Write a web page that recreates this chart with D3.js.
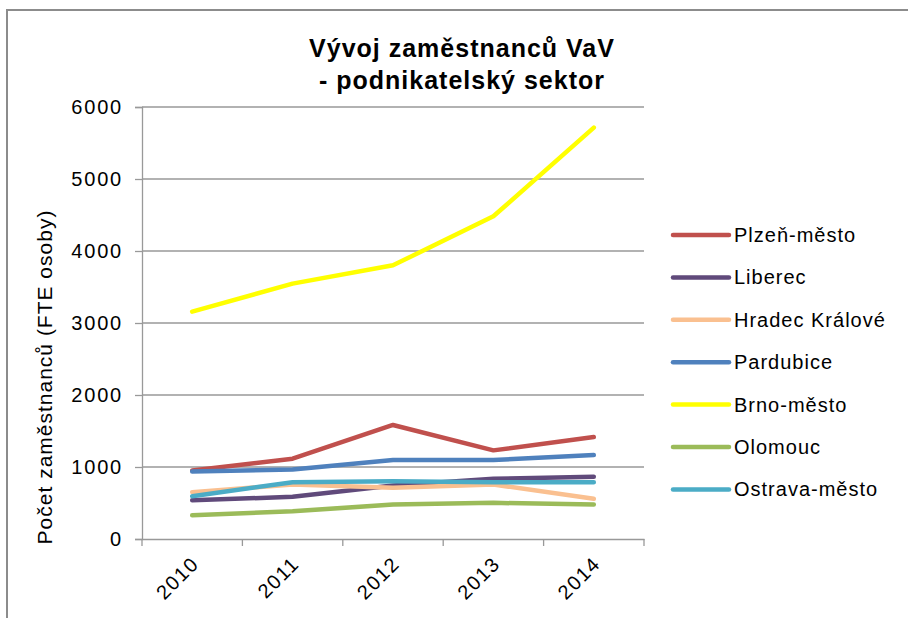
<!DOCTYPE html>
<html lang="cs">
<head>
<meta charset="UTF-8">
<script src="https://cdn.jsdelivr.net/npm/d3@7"></script>
<style>
    body { margin: 0; background: #fff; }
    text { font-family: "Liberation Sans", Arial, sans-serif; fill: #000; }
</style>
</head>
<body>
<div id="chart"></div>
<script>
    // Data
    const years = ["2010", "2011", "2012", "2013", "2014"];
    const regions = ["Plzeň-město", "Liberec", "Hradec Králové", "Pardubice", "Brno-město", "Olomouc", "Ostrava-město"];
    const plzen = [950, 1115, 1584, 1231, 1417];
    const liberec = [538, 586, 743, 837, 865];
    const hradec = [650, 757, 711, 757, 558];
    const pardubice = [939, 966, 1096, 1096, 1166];
    const brno = [3158, 3547, 3801, 4482, 5714];
    const olomouc = [329, 385, 478, 502, 478];
    const ostrava = [594, 789, 803, 789, 789];
    const colors = ["#C0504D", "#604A7B", "#FAC090", "#4F81BD", "#FFFF00", "#9BBB59", "#4BACC6"];
    const yTicks = [0, 1000, 2000, 3000, 4000, 5000, 6000];

    const series = [plzen, liberec, hradec, pardubice, brno, olomouc, ostrava];

    const width = 908, height = 618;
    const svg = d3.select("#chart").append("svg")
        .attr("width", width)
        .attr("height", height);

    // frame
    svg.append("path")
        .attr("d", "M7,618V10H908")
        .attr("fill", "none")
        .attr("stroke", "#8c8c8c")
        .attr("stroke-width", 2);

    const x = d3.scaleBand().domain(years).range([142, 644]);
    const y = d3.scaleLinear().domain([0, 6000]).range([539, 107]);

    // gridlines
    svg.append("g")
        .selectAll("line")
        .data(yTicks.slice(1))
        .join("line")
        .attr("x1", 142).attr("x2", 644)
        .attr("y1", d => y(d)).attr("y2", d => y(d))
        .attr("stroke", "#999")
        .attr("stroke-width", 1.3);

    // y axis
    const yAxis = svg.append("g")
        .attr("transform", "translate(142,0)")
        .call(d3.axisLeft(y).tickValues(yTicks).tickSize(7).tickPadding(12).tickFormat(d3.format("d")));
    yAxis.select(".domain").attr("stroke", "#999").attr("stroke-width", 1.3);
    yAxis.selectAll(".tick line").attr("stroke", "#999").attr("stroke-width", 1.3);
    yAxis.selectAll("text").style("font-size", "20px").style("letter-spacing", "1.8px").attr("fill", "#000");

    // x axis
    const xAxis = svg.append("g")
        .attr("transform", "translate(0,539)")
        .call(d3.axisBottom(x).tickSize(0).tickFormat(""));
    xAxis.select(".domain").attr("stroke", "#999").attr("stroke-width", 1.3);
    const xt = [...years.map(d => x(d)), 644];
    svg.append("g").selectAll("line").data(xt).join("line")
        .attr("x1", d => d).attr("x2", d => d)
        .attr("y1", 539).attr("y2", 546)
        .attr("stroke", "#999").attr("stroke-width", 1.3);
    svg.append("g").selectAll("text").data(years).join("text")
        .attr("transform", d => `translate(${x(d) + x.bandwidth() / 2 + 3},560) rotate(-45)`)
        .attr("text-anchor", "end")
        .attr("dy", "0.35em")
        .style("font-size", "20px")
        .style("letter-spacing", "1.5px")
        .text(d => d);

    // lines
    const line = d3.line()
        .x((d, i) => x(years[i]) + x.bandwidth() / 2)
        .y(d => y(d));
    svg.append("g").selectAll("path")
        .data(series)
        .join("path")
        .attr("d", line)
        .attr("fill", "none")
        .attr("stroke", (d, i) => colors[i])
        .attr("stroke-width", 4.5)
        .attr("stroke-linecap", "round")
        .attr("stroke-linejoin", "round");

    // title
    svg.append("text")
        .attr("x", 462).attr("y", 57)
        .attr("text-anchor", "middle")
        .style("font-size", "25px").style("font-weight", "bold")
        .style("letter-spacing", "1px")
        .selectAll("tspan")
        .data(["Vývoj zaměstnanců VaV", "- podnikatelský sektor"])
        .join("tspan")
        .attr("x", 462)
        .attr("dy", (d, i) => i ? 32 : 0)
        .text(d => d);

    // y label
    svg.append("text")
        .attr("transform", "translate(52,377) rotate(-90)")
        .attr("text-anchor", "middle")
        .style("font-size", "21px")
        .style("letter-spacing", "1px")
        .text("Počet zaměstnanců  (FTE osoby)");

    // legend
    const legend = svg.append("g").selectAll("g")
        .data(regions)
        .join("g")
        .attr("transform", (d, i) => `translate(671,${235 + i * 42.4})`);
    legend.append("line")
        .attr("x1", 2).attr("x2", 58)
        .attr("stroke", (d, i) => colors[i])
        .attr("stroke-width", 4.5)
        .attr("stroke-linecap", "round");
    legend.append("text")
        .attr("x", 63).attr("dy", "0.35em")
        .style("font-size", "20px")
        .style("letter-spacing", "1px")
        .text(d => d);
</script>
</body>
</html>
